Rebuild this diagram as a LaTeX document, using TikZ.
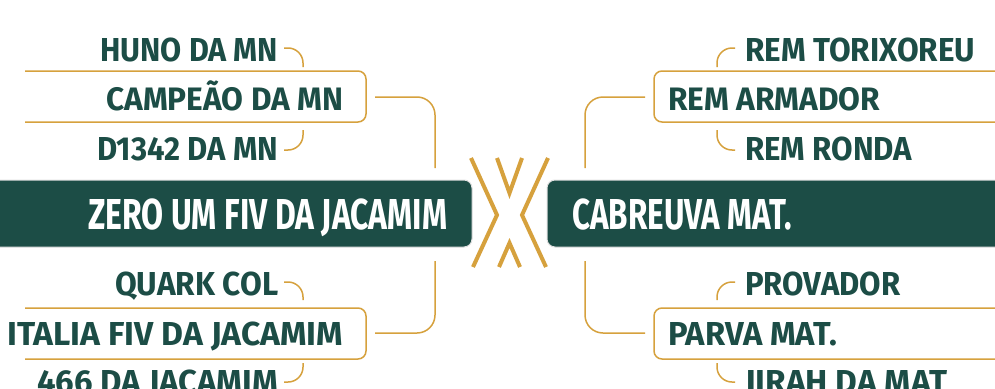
\documentclass[tikz,border=0pt]{standalone}
\usepackage{fontspec}
\setmainfont{Fira Sans}
\usepackage{graphicx}
\definecolor{dgreen}{HTML}{1C4D46}
\definecolor{gold}{HTML}{D6A13D}
\newcommand\fitt[3]{\resizebox{#1}{#2}{\raisebox{0pt}[\fontcharht\font`\M][0pt]{#3}}}
\begin{document}
\begin{tikzpicture}[x=1pt,y=-1pt,
  lbl/.style={text=dgreen,font=\bfseries\fontsize{32}{36}\selectfont,anchor=base west,inner sep=0pt},
  bartxt/.style={text=white,font=\bfseries\fontsize{40}{44}\selectfont,anchor=base west,inner sep=0pt},
  bar/.style={fill=dgreen,draw=black!12,line width=1pt,rounded corners=8pt},
  goldline/.style={draw=gold,line width=1.5pt},
  link/.style={draw=gold,line width=1.5pt,rounded corners=15pt},
  mainlink/.style={draw=gold,line width=1.5pt,rounded corners=18pt},
  xline/.style={draw=gold,line width=4pt}]
\useasboundingbox (0,0) rectangle (995,388);
\fill[white] (0,0) rectangle (995,388);

% main bars
\path[bar] (-20,180) rectangle (472,247);
\path[bar] (547,180) rectangle (1020,247);
\node[bartxt] (zero) at (88,229) {\fitt{359pt}{30pt}{ZERO UM FIV DA JACAMIM}};
\node[bartxt] (cab) at (572,229) {\fitt{220pt}{30pt}{CABREUVA MAT.}};

% X symbol
\draw[xline] (471,158) -- (497,215) -- (473,267);
\draw[xline] (548,158) -- (522,215) -- (546,267);
\draw[xline] (497,158) -- (509.5,193) -- (522,158);
\draw[xline] (499,267) -- (509.5,243) -- (520,267);

% left boxes
\draw[goldline,rounded corners=8pt] (25,71) -- (366,71) -- (366,122) -- (25,122);
\draw[goldline,rounded corners=8pt] (25,308) -- (366,308) -- (366,359) -- (25,359);
% right boxes
\draw[goldline,rounded corners=8pt] (1010,71) -- (654,71) -- (654,122) -- (1010,122);
\draw[goldline,rounded corners=8pt] (1010,308) -- (654,308) -- (654,359) -- (1010,359);

% left labels
\node[lbl] (huno) at (100,61) {\fitt{178pt}{23pt}{HUNO DA MN}};
\node[lbl] (camp) at (106,110) {\fitt{237pt}{22.5pt}{CAMPEÃO DA MN}};
\node[lbl] (d1342) at (97,160) {\fitt{181pt}{23pt}{D1342 DA MN}};
\node[lbl] (quark) at (115,295) {\fitt{163pt}{23pt}{QUARK COL}};
\node[lbl] (italia) at (7,345) {\fitt{336pt}{23pt}{ITALIA FIV DA JACAMIM}};
\node[lbl] (j466) at (37,393) {\fitt{241pt}{23pt}{466 DA JACAMIM}};
% right labels
\node[lbl] (tori) at (745,61) {\fitt{230pt}{23pt}{REM TORIXOREU}};
\node[lbl] (arm) at (668,110) {\fitt{212pt}{22.5pt}{REM ARMADOR}};
\node[lbl] (ronda) at (745,160) {\fitt{167pt}{23pt}{REM RONDA}};
\node[lbl] (prov) at (745,295) {\fitt{155pt}{23pt}{PROVADOR}};
\node[lbl] (parva) at (668,345) {\fitt{169pt}{23pt}{PARVA MAT.}};
\node[lbl] (jirah) at (745,393) {\fitt{202pt}{23pt}{JIRAH DA MAT}};

% coordinates for connectors
\coordinate (lt1) at (284,48);   \coordinate (lt2) at (303,67);
\coordinate (lb1) at (303,130);  \coordinate (lb2) at (284,150);
\coordinate (lq1) at (284,282);  \coordinate (lq2) at (303,300);
\coordinate (lj1) at (303,363);  \coordinate (lj2) at (284,382);
\coordinate (rt1) at (735,48);   \coordinate (rt2) at (717,67);
\coordinate (rb1) at (717,130);  \coordinate (rb2) at (735,150);
\coordinate (rp1) at (735,282);  \coordinate (rp2) at (717,300);
\coordinate (rj1) at (717,363);  \coordinate (rj2) at (735,382);
\coordinate (lm1) at (375,97);   \coordinate (lm2) at (435,168);
\coordinate (lm3) at (435,261);  \coordinate (lm4) at (375,333);
\coordinate (rm1) at (645,97);   \coordinate (rm2) at (585,168);
\coordinate (rm3) at (585,261);  \coordinate (rm4) at (645,333);

% small connectors
\draw[link] (lt1) -| (lt2);
\draw[link] (lb1) |- (lb2);
\draw[link] (lq1) -| (lq2);
\draw[link] (lj1) |- (lj2);
\draw[link] (rt1) -| (rt2);
\draw[link] (rb1) |- (rb2);
\draw[link] (rp1) -| (rp2);
\draw[link] (rj1) |- (rj2);
% main connectors
\draw[mainlink] (lm1) -| (lm2);
\draw[mainlink] (lm3) |- (lm4);
\draw[mainlink] (rm1) -| (rm2);
\draw[mainlink] (rm3) |- (rm4);
\end{tikzpicture}
\end{document}
